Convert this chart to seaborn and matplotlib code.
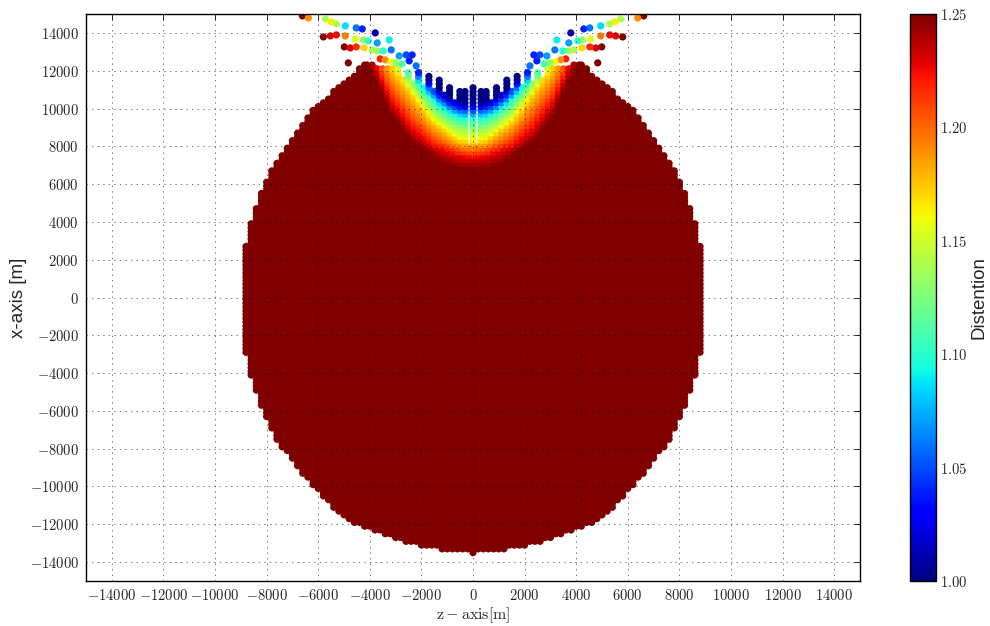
import numpy as np
import pandas as pd
import matplotlib
matplotlib.use("Agg")
import matplotlib.pyplot as plt
import seaborn as sns
from matplotlib.colors import Normalize
from matplotlib.cm import ScalarMappable
from matplotlib.ticker import FuncFormatter, MultipleLocator

# ---- body outline: half width in z [m] at height x [m] (symmetric about z = 0)
edge_x = [-13500, -13286, -13127, -12916, -12705, -12494, -12282, -12045,
          -11781, -11464, -11094, -10724, -10196, -9773, -9351, -8981,
          -8505, -7977, -7396, -6868, -6340, -5706, -4913, -4121, -2906,
          2747, 3909, 4702, 5494, 6022, 6709, 7396, 8294, 8981, 9720,
          10249, 10935, 11464, 12335]
edge_half_width = [70, 1470, 1973, 2630, 3017, 3520, 3907, 4420,
                   4874, 5182, 5453, 5724, 6033, 6343, 6614, 6807,
                   7000, 7387, 7658, 7851, 8045, 8200, 8432, 8625, 8818,
                   8818, 8625, 8432, 8238, 8045, 7851, 7465, 7078, 6691, 6343,
                   5956, 5376, 4874, 4320]

# ---- top surface of the indentation: |z| [m] -> highest x [m]
notch_abs_z = [0, 230, 460, 735, 1040, 1315, 1700, 2090, 2475, 2860, 3250, 3790, 4400]
notch_top = [11120, 10960, 10900, 11100, 11450, 11600, 11760, 11950, 12070,
             12180, 12230, 12335, 12335]

# ---- distention contours under the indentation: |z| [m] -> height x [m]
cyan_abs_z = [0, 309, 696, 1212, 1728, 2243, 2630, 3017, 3661, 4400]
cyan_level = [9500, 9530, 9700, 10214, 10918, 11800, 12400, 13100, 14900, 17000]   # 1.10
yellow_abs_z = [0, 438, 955, 1470, 1856, 2243, 2630, 3017, 3661, 4400]
yellow_level = [8250, 8365, 8893, 9422, 10127, 10830, 11535, 12240, 13600, 15500]  # 1.17
red_abs_z = [0, 567, 1341, 2243, 3017, 3661, 4200, 4400]
red_level = [7400, 7480, 7880, 8893, 10302, 12240, 13500, 14500]                   # 1.23
GAP_DARK = 550    # 1.23 -> 1.25 below the red contour
GAP_BLUE = 850    # 1.10 -> 1.00 above the cyan contour

# ---- detached points above the indentation (z < 0 side, mirrored to z > 0)
spray_z = [-6613, -6381, -5724, -5492, -5298, -4950, -4525, -4293, -3790,
           -5801, -5530, -5298, -4950, -4563, -4254, -4061, -3713, -3248,
           -4989, -4757, -4525, -4215, -3906, -3713, -3481, -3171,
           -2862, -2591, -2359, -4834,
           -3597, -3403, -3171, -2978, -2746, -2475, -2204]
spray_x = [14898, 14792, 14739, 14581, 14475, 14370, 14264, 14211, 14000,
           13788, 13841, 13894, 13841, 13683, 13630, 13577, 13471, 13630,
           13260, 13207, 13260, 13207, 13101, 13048, 13048, 13101,
           12784, 12837, 12837, 12415,
           12626, 12573, 12467, 12415, 12362, 12520, 12256]
spray_d = [1.25, 1.19, 1.14, 1.165, 1.14, 1.085, 1.06, 1.04, 1.01,
           1.25, 1.23, 1.225, 1.195, 1.155, 1.135, 1.10, 1.07, 1.09,
           1.25, 1.23, 1.215, 1.17, 1.14, 1.135, 1.10, 1.06,
           1.07, 1.05, 1.04, 1.25,
           1.22, 1.19, 1.16, 1.13, 1.11, 1.04, 1.06]

GRID_STEP = 200.0
SLIT_SHIFT = 110.0
FINGER_DEPTH = 550.0
D_MIN, D_MAX = 1.00, 1.25

# ---- build the body point cloud
zz, xx = np.meshgrid(np.arange(-9000, 9001, GRID_STEP),
                     np.arange(-13500, 12401, GRID_STEP))
zz, xx = zz.ravel(), xx.ravel()
az = np.abs(zz)
top = np.interp(az, notch_abs_z, notch_top)
inside = az <= np.interp(xx, edge_x, edge_half_width)
below_top = (az > notch_abs_z[-1]) | (xx <= top)
# separate fingers along the upper surface of the indentation
finger_gap = ((top - xx) < FINGER_DEPTH) & (az >= 500) & (az <= 2600) \
    & ((np.round(az / GRID_STEP) % 2) == 1)
keep = inside & below_top & ~finger_gap
zz, xx, az = zz[keep], xx[keep], az[keep]

h_red = np.interp(az, red_abs_z, red_level)
h_yel = np.interp(az, yellow_abs_z, yellow_level)
h_cya = np.interp(az, cyan_abs_z, cyan_level)
heights = np.column_stack([h_red - GAP_DARK, h_red, h_yel, h_cya, h_cya + GAP_BLUE])
level_values = [1.25, 1.23, 1.17, 1.10, 1.00]
dist = np.array([np.interp(x, h, level_values) for x, h in zip(xx, heights)])
dist = np.round(dist, 3)

# open columns next to the axis of the indentation
slit = (xx >= 8100) & (az >= GRID_STEP) & (az <= 4000)
zz = np.where(slit, zz + np.sign(zz) * SLIT_SHIFT, zz)

body = pd.DataFrame({"z": zz, "x": xx, "d": dist}).sort_values("x", kind="stable")

sz = np.array(spray_z, float)
spray = pd.DataFrame({"z": np.concatenate([sz, -sz]),
                      "x": np.concatenate([spray_x, spray_x]),
                      "d": np.concatenate([spray_d, spray_d])})
points = pd.concat([body, spray], ignore_index=True)

# ---- figure
sns.set_theme(style="white")
plt.rcParams["mathtext.fontset"] = "cm"
plt.rcParams["font.family"] = ["DejaVu Sans"]

fig = plt.figure(figsize=(9.9, 6.26), dpi=100)
ax = fig.add_axes([0.0869, 0.0719, 0.7818, 0.9057])
cax = fig.add_axes([0.9192, 0.0719, 0.0263, 0.9057])

jet = matplotlib.colormaps["jet"]
norm = Normalize(D_MIN, D_MAX)
sns.scatterplot(data=points, x="z", y="x", hue="d", palette=jet,
                hue_norm=norm, legend=False, s=27, linewidth=0,
                edgecolor="none", ax=ax)

ax.set_xlim(-15000, 15000)
ax.set_ylim(-15000, 15000)
ax.xaxis.set_major_locator(MultipleLocator(2000))
ax.yaxis.set_major_locator(MultipleLocator(2000))
math_int = FuncFormatter(lambda v, p: r"$%d$" % int(round(v)))
ax.xaxis.set_major_formatter(math_int)
ax.yaxis.set_major_formatter(math_int)
ax.tick_params(direction="in", top=True, right=True, length=4, width=0.6,
               color="black", labelsize=10.5, pad=5)
ax.set_axisbelow(False)
ax.grid(True, color="black", linestyle=(0, (2, 6)), linewidth=0.5, alpha=0.75)
for sp in ax.spines.values():
    sp.set_color("black")
    sp.set_linewidth(1.0)

ax.set_xlabel(r"$\mathrm{z - axis[m]}$", fontsize=11.5, labelpad=2)
ax.set_ylabel("x-axis [m]", fontsize=13.5, family="Liberation Sans", labelpad=2)

cb = fig.colorbar(ScalarMappable(norm=norm, cmap=jet), cax=cax)
cb.set_ticks([1.00, 1.05, 1.10, 1.15, 1.20, 1.25])
cb.ax.yaxis.set_major_formatter(FuncFormatter(lambda v, p: r"$%.2f$" % v))
cb.ax.tick_params(direction="in", length=4, width=0.6, color="black",
                  labelsize=10.5, pad=3)
cb.outline.set_edgecolor("black")
cb.outline.set_linewidth(1.0)
cb.set_label("Distention", fontsize=13.5, family="Liberation Sans", labelpad=2)

fig.savefig("out.png", dpi=100, facecolor="white")
